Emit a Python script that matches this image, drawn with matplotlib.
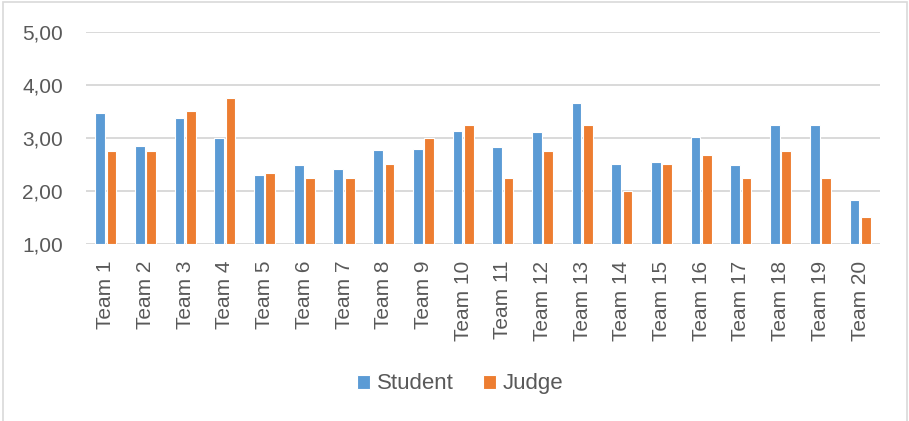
import numpy as np
import matplotlib
matplotlib.use("Agg")
import matplotlib.pyplot as plt
from matplotlib.patches import Rectangle
from matplotlib.ticker import FuncFormatter

plt.rcParams["font.family"] = ["Liberation Sans", "DejaVu Sans"]

# data
teams = [f"Team {i}" for i in range(1, 21)]
student = [3.47, 2.84, 3.37, 3.00, 2.30, 2.48, 2.41, 2.77, 2.79, 3.13,
           2.82, 3.11, 3.65, 2.50, 2.55, 3.02, 2.48, 3.25, 3.24, 1.82]
judge = [2.75, 2.75, 3.50, 3.75, 2.33, 2.25, 2.25, 2.50, 3.00, 3.25,
         2.25, 2.75, 3.25, 2.00, 2.50, 2.67, 2.25, 2.75, 2.25, 1.50]
yticks = [1, 2, 3, 4, 5]

BLUE = "#5B9BD5"
ORANGE = "#ED7D31"
GRID = "#D9D9D9"
TXT = "#595959"

fig = plt.figure(figsize=(9.09, 4.21), dpi=100)
ax = fig.add_axes([0.0946, 0.4204, 0.8734, 0.5043])

x = np.arange(len(teams))
w = 0.245
ax.bar(x - w / 2 - 0.02, np.array(student) - 1, w, bottom=1, color=BLUE,
       edgecolor="white", linewidth=0.8, label="Student", zorder=3)
ax.bar(x + w / 2 + 0.02, np.array(judge) - 1, w, bottom=1, color=ORANGE,
       edgecolor="white", linewidth=0.8, label="Judge", zorder=3)

ax.set_ylim(1, 5)
ax.set_xlim(-0.5, len(teams) - 0.5)
ax.set_yticks(yticks)
ax.yaxis.set_major_formatter(FuncFormatter(lambda v, p: f"{v:.2f}".replace(".", ",")))
ax.grid(axis="y", color=GRID, linewidth=1.4, zorder=0)
for s in ax.spines.values():
    s.set_visible(False)
ax.tick_params(axis="both", length=0, colors=TXT)
ax.tick_params(axis="y", pad=16.5, labelsize=15)
ax.tick_params(axis="x", pad=12, labelsize=15)
ax.set_xticks(x)
ax.set_xticklabels(teams, rotation=90, va="top", ha="center")

leg = fig.legend(loc="center", bbox_to_anchor=(0.506, 0.088), ncol=2,
                 frameon=False, fontsize=16, handlelength=0.6, handleheight=0.6,
                 handletextpad=0.3, columnspacing=1.3)
for t in leg.get_texts():
    t.set_color(TXT)

# chart border
fig.patches.append(Rectangle((0.003, -0.01), 0.995, 1.005, transform=fig.transFigure,
                             fill=False, edgecolor="#D9D9D9", linewidth=1.2))

fig.savefig("out.png", dpi=100)
